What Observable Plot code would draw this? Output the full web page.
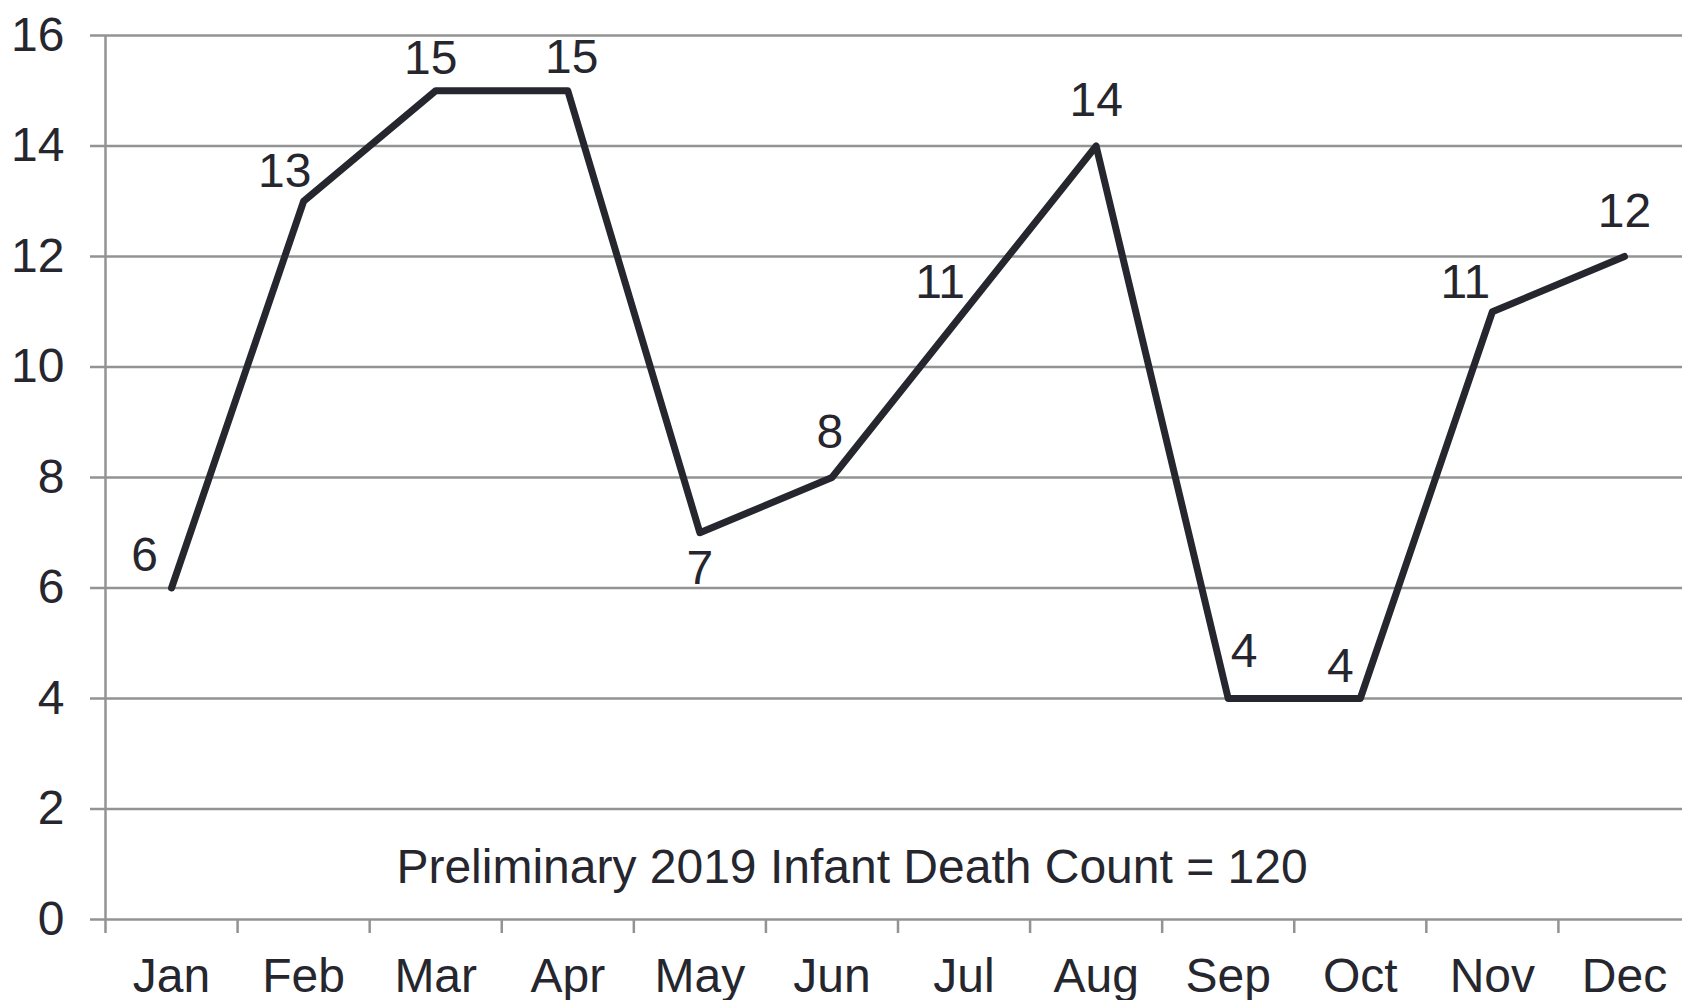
<!DOCTYPE html>
<html>
<head>
<meta charset="utf-8">
<script src="https://cdn.jsdelivr.net/npm/d3@7"></script>
<script src="https://cdn.jsdelivr.net/npm/@observablehq/plot@0.6"></script>
<style>
  html, body { margin: 0; padding: 0; background: #fff; overflow: hidden; }
</style>
</head>
<body>
<div id="chart"></div>
<script>
const months = ["Jan","Feb","Mar","Apr","May","Jun","Jul","Aug","Sep","Oct","Nov","Dec"];
const deaths = [6, 13, 15, 15, 7, 8, 11, 14, 4, 4, 11, 12];
const yTicks = [0, 2, 4, 6, 8, 10, 12, 14, 16];
const annotation = "Preliminary 2019 Infant Death Count = 120";

// label nudges (style only), in pixels relative to each point
const labelDx = [-27, -19, -5, 4, 0, -2, -24, 0, 16, -20, -27, 0];
const labelDy = [-32, -30, -32, -33, 36, -45, -29, -45, -47, -32, -29, -45];

const data = months.map((m, i) => ({month: m, idx: i + 0.5, value: deaths[i]}));

const gray = "#939393";
const ink = "#26262e";
const font = "'Liberation Sans', Arial, sans-serif";

const labelMarks = data.map((d, i) =>
  Plot.text([d], {
    x: "idx", y: "value", text: d => String(d.value),
    dx: labelDx[i], dy: labelDy[i],
    fill: ink, fontSize: 48, textAnchor: "middle", lineAnchor: "middle"
  })
);

const chart = Plot.plot({
  width: 1682,
  height: 1000,
  marginTop: 35,
  marginLeft: 105,
  marginRight: 0,
  marginBottom: 81,
  style: {fontFamily: font, fontSize: "48px", background: "#fff", color: ink},
  x: {type: "linear", domain: [0, 12], range: [105, 1690], axis: null},
  y: {domain: [0, 16], axis: null},
  marks: [
    Plot.ruleY(yTicks, {stroke: gray, strokeWidth: 2.5}),
    Plot.ruleX([0], {y1: 0, y2: 16, stroke: gray, strokeWidth: 2.5}),
    Plot.axisY({ticks: yTicks, tickSize: 15, tickPadding: 26, stroke: gray, strokeWidth: 2.5, fill: ink, fontSize: 48, label: null}),
    Plot.axisX({ticks: d3.range(0, 13), tickSize: 14, tickFormat: () => "", stroke: gray, strokeWidth: 2.5, label: null}),
    Plot.axisX({ticks: data.map(d => d.idx), tickSize: 0, tickPadding: 38, tickFormat: (v) => months[Math.floor(v)], fill: ink, fontSize: 48, label: null}),
    Plot.line(data, {x: "idx", y: "value", stroke: ink, strokeWidth: 7, strokeLinejoin: "round", strokeLinecap: "round"}),
    ...labelMarks,
    Plot.text([annotation], {frameAnchor: "bottom", dx: -42, dy: -52, text: d => d, fill: ink, fontSize: 48, textAnchor: "middle", lineAnchor: "middle"})
  ]
});
document.getElementById("chart").appendChild(chart);
</script>
</body>
</html>
